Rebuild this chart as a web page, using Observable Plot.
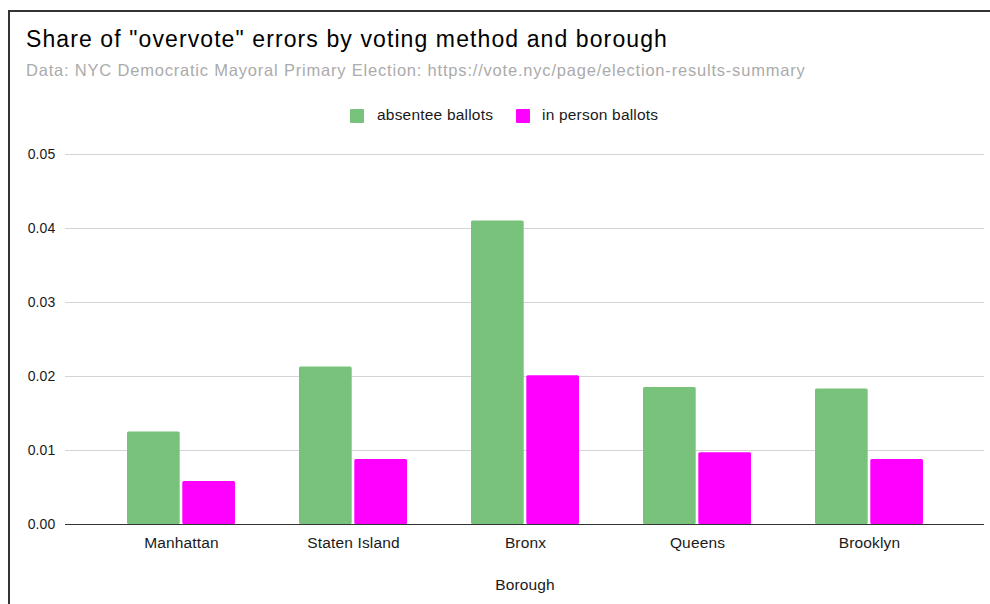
<!DOCTYPE html>
<html>
<head>
<meta charset="utf-8">
<script src="https://cdn.jsdelivr.net/npm/d3@7"></script>
<script src="https://cdn.jsdelivr.net/npm/@observablehq/plot@0.6"></script>
<style>
  html, body { margin: 0; padding: 0; background: #fff; }
  body { width: 990px; height: 604px; position: relative; overflow: hidden; font-family: "Liberation Sans", Arial, sans-serif; }
  #frame { position: absolute; left: 8px; top: 10px; right: -10px; bottom: -10px; border-top: 2px solid #333; border-left: 2px solid #333; }
  #title { position: absolute; left: 26px; top: 28px; font-size: 23px; line-height: 23px; letter-spacing: 1.1px; color: #000; white-space: nowrap; }
  #subtitle { position: absolute; left: 26px; top: 62px; font-size: 16.5px; line-height: 16.5px; letter-spacing: 0.8px; color: #ababab; white-space: nowrap; }
  .sw { position: absolute; width: 14px; height: 14px; top: 109px; border-radius: 1px; }
  .lt { position: absolute; top: 107px; font-size: 15.5px; line-height: 15.5px; letter-spacing: 0.2px; color: #1a1a1a; white-space: nowrap; }
  #chart { position: absolute; left: 0; top: 130px; }
</style>
</head>
<body>
<div id="frame"></div>
<div id="title"></div>
<div id="subtitle"></div>
<div id="legend"></div>
<div id="chart"></div>
<script>
const titleText = 'Share of "overvote" errors by voting method and borough';
const subtitleText = "Data: NYC Democratic Mayoral Primary Election: https://vote.nyc/page/election-results-summary";
const boroughs = ["Manhattan", "Staten Island", "Bronx", "Queens", "Brooklyn"];
const seriesNames = ["absentee ballots", "in person ballots"];
const absentee = [0.0125, 0.0213, 0.0410, 0.0185, 0.0183];
const inPerson = [0.0058, 0.0088, 0.0201, 0.0097, 0.0088];
const yTicks = [0, 0.01, 0.02, 0.03, 0.04, 0.05];
const colors = ["#79c27b", "#ff00ff"];
const xLabel = "Borough";

document.getElementById("title").textContent = titleText;
document.getElementById("subtitle").textContent = subtitleText;

// legend
const legend = document.getElementById("legend");
const swX = [350, 516], txX = [377, 542];
seriesNames.forEach((s, i) => {
  const sw = document.createElement("div");
  sw.className = "sw"; sw.style.left = swX[i] + "px"; sw.style.background = colors[i];
  legend.appendChild(sw);
  const t = document.createElement("div");
  t.className = "lt"; t.style.left = txX[i] + "px"; t.textContent = s;
  legend.appendChild(t);
});

const data = boroughs.flatMap((b, i) => [
  {borough: b, series: seriesNames[0], value: absentee[i]},
  {borough: b, series: seriesNames[1], value: inPerson[i]}
]);

const plot = Plot.plot({
  width: 990,
  height: 474,
  marginTop: 24,
  marginBottom: 80,
  marginLeft: 65,
  marginRight: 6,
  style: {fontFamily: "Liberation Sans, Arial, sans-serif", fontSize: "15.5px", letterSpacing: "0.15px", color: "#1a1a1a", background: "transparent", overflow: "visible"},
  x: {domain: boroughs, paddingInner: 0.375, paddingOuter: 0.355, label: null},
  y: {domain: [0, 0.05], label: null},
  color: {domain: seriesNames, range: colors},
  marks: [
    Plot.gridY(yTicks.filter(d => d > 0), {stroke: "#d4d4d4", strokeOpacity: 1}),
    Plot.barY(data.filter(d => d.series === seriesNames[0]), {x: "borough", y: "value", fill: "series", insetRight: 55.3, rx: 1.5}),
    Plot.barY(data.filter(d => d.series === seriesNames[1]), {x: "borough", y: "value", fill: "series", insetLeft: 55.3, rx: 1.5}),
    Plot.ruleY([0], {stroke: "#333", strokeWidth: 1.2}),
    Plot.axisY({ticks: yTicks, tickFormat: d3.format(".2f"), tickSize: 0, tickPadding: 10, fontSize: 14, label: null}),
    Plot.axisX({tickSize: 0, tickPadding: 12, label: xLabel, labelAnchor: "center", labelOffset: 65})
  ]
});
document.getElementById("chart").appendChild(plot);
</script>
</body>
</html>
